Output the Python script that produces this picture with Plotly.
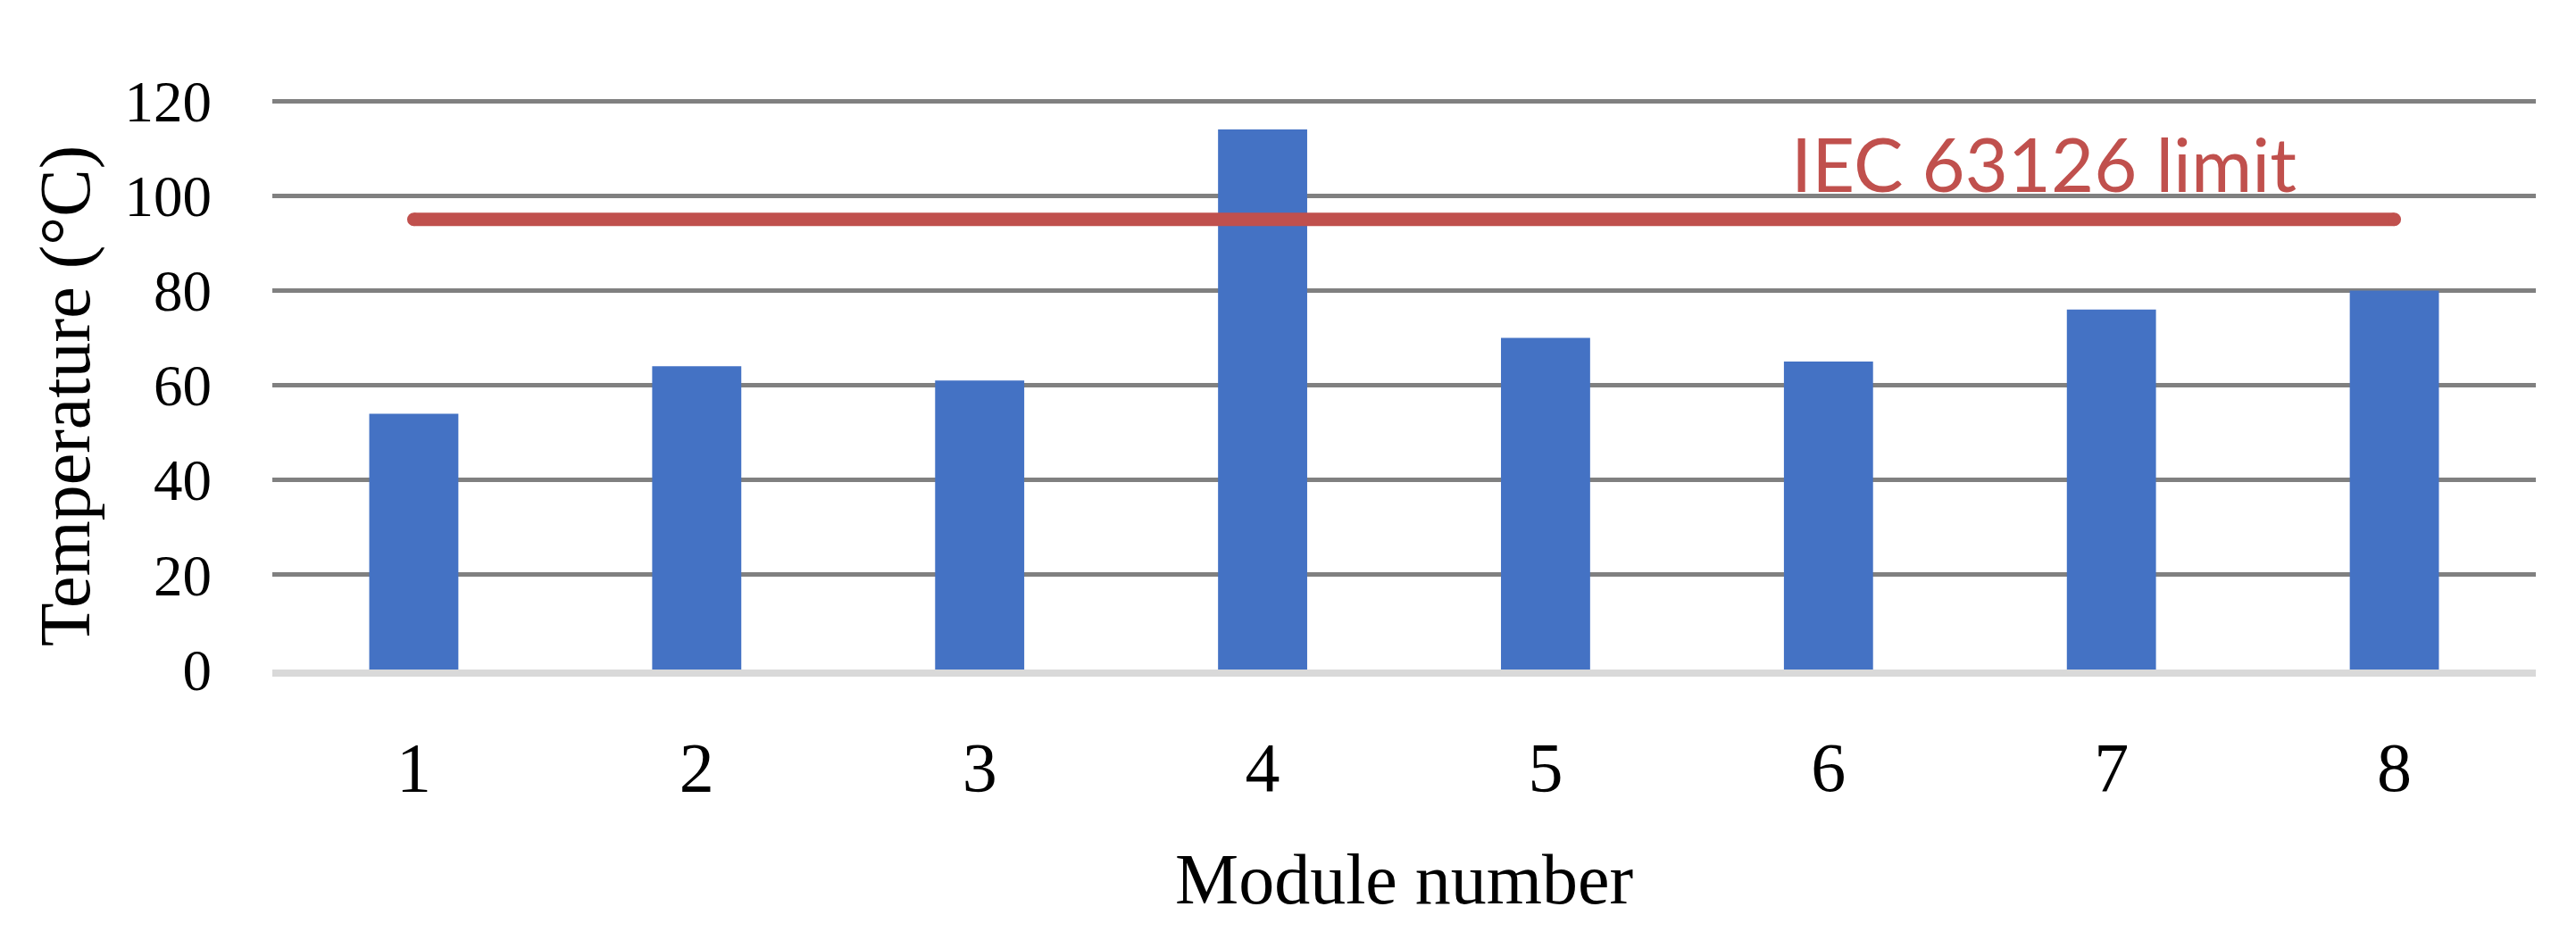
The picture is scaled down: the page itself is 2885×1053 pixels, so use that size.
import plotly.graph_objects as go

modules = [1, 2, 3, 4, 5, 6, 7, 8]
temperature = [54, 64, 61, 114, 70, 65, 76, 80]
limit_x = [1, 8]
limit_y = [95, 95]
y_ticks = [0, 20, 40, 60, 80, 100, 120]

serif = "Liberation Serif"

fig = go.Figure()

fig.add_trace(go.Bar(
    x=modules,
    y=temperature,
    marker=dict(color="#4472C4", line=dict(width=0)),
    width=0.315,
    showlegend=False,
))

# limit line, markers at the ends act as round caps
fig.add_trace(go.Scatter(
    x=limit_x,
    y=limit_y,
    mode="lines+markers",
    line=dict(color="#C0504D", width=15),
    marker=dict(color="#C0504D", size=15, line=dict(width=0)),
    showlegend=False,
))

fig.add_annotation(
    x=6.76, y=106.9, xref="x", yref="y",
    text="IEC 63126 limit", showarrow=False,
    xanchor="center", yanchor="middle",
    font=dict(family="Lato", size=83, color="#C0504D"),
)

fig.add_annotation(
    x=0.5, y=-0.368, xref="paper", yref="paper",
    text="Module number", showarrow=False,
    xanchor="center", yanchor="middle",
    font=dict(family=serif, size=80, color="black"),
)
fig.add_annotation(
    x=-0.0915, y=0.48, xref="paper", yref="paper",
    text="Temperature (°C)", showarrow=False, textangle=-90,
    xanchor="center", yanchor="middle",
    font=dict(family=serif, size=80, color="black"),
)

# the page body adds 8px, so margins are shifted up/left by that
fig.update_layout(
    width=2885,
    height=1053,
    paper_bgcolor="white",
    plot_bgcolor="white",
    margin=dict(l=297, r=53, t=103, b=311),
    xaxis=dict(
        range=[0.5, 8.5],
        tickvals=modules,
        ticktext=[str(m) for m in modules],
        showgrid=False,
        zeroline=False,
        showline=True,
        linecolor="#D9D9D9",
        linewidth=7.5,
        ticks="",
        ticklabelstandoff=35,
        tickfont=dict(family=serif, size=78, color="black"),
    ),
    yaxis=dict(
        range=[0, 120.4],
        tickvals=y_ticks,
        showgrid=True,
        gridcolor="#808080",
        gridwidth=4.7,
        zeroline=False,
        showline=False,
        ticks="",
        ticklabelstandoff=67,
        tickfont=dict(family=serif, size=65, color="black"),
    ),
)

fig.write_html("out.html")
